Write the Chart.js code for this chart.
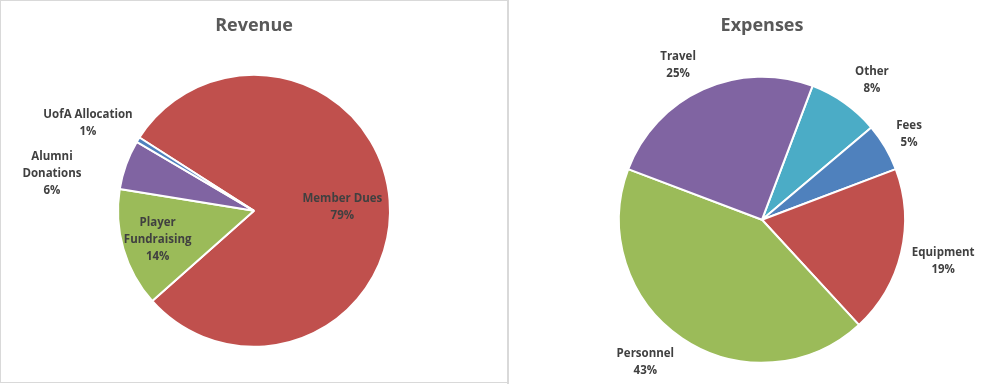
<!DOCTYPE html>
<html>
<head>
<meta charset="utf-8">
<script src="https://cdn.jsdelivr.net/npm/chart.js@4"></script>
<style>
  html, body { margin: 0; padding: 0; background: #ffffff; }
  body { width: 1000px; height: 384px; position: relative; overflow: hidden; }
  .panel { position: absolute; top: 0; height: 383px; }
  #leftPanel { left: 0; width: 508px; }
  #rightPanel { left: 510px; width: 490px; }
  .line { position: absolute; background: #d9d9d9; }
</style>
</head>
<body>
<div class="line" style="left:0;top:0;width:509px;height:1px;"></div>
<div class="line" style="left:0;top:0;width:1px;height:383px;"></div>
<div class="line" style="left:0;top:382px;width:509px;height:1px;"></div>
<div class="line" style="left:507px;top:0;width:2px;height:384px;"></div>
<div class="panel" id="leftPanel"><canvas id="rev"></canvas></div>
<div class="panel" id="rightPanel"><canvas id="exp"></canvas></div>
<script>
// ---- Data ----
const revenueCategories = [['Member Dues'], ['Player', 'Fundraising'], ['Alumni', 'Donations'], ['UofA Allocation']];
const revenueValues = [79.4, 14.1, 5.9, 0.6];
const revenueColors = ['#C0504D', '#9BBB59', '#8064A2', '#4F81BD'];

const expenseCategories = [['Other'], ['Fees'], ['Equipment'], ['Personnel'], ['Travel']];
const expenseValues = [8.1, 5.4, 18.9, 42.6, 25.0];
const expenseColors = ['#4BACC6', '#4F81BD', '#C0504D', '#9BBB59', '#8064A2'];

// label placement style: radius factor and angular nudge (degrees) per slice
const revenueLabelPlace = [{f: 0.65, da: 2.4}, {f: 0.74, da: -0.7}, {f: 1.51, da: -9.5}, {f: 1.38, da: -3.7}];
const expenseLabelPlace = [{f: 1.24, da: 3}, {f: 1.19, da: 0.2}, {f: 1.30, da: -0.4}, {f: 1.29, da: 5.2}, {f: 1.23, da: -4.2}];

const FONT = "'Comic Sans MS', 'Open Sans', sans-serif";

const sliceLabels = {
  id: 'sliceLabels',
  afterDraw(chart, args, opts) {
    const ctx = chart.ctx;
    const meta = chart.getDatasetMeta(0);
    const data = chart.data.datasets[0].data;
    const total = data.reduce((a, b) => a + b, 0);
    ctx.save();
    ctx.font = 'bold 11.5px ' + FONT;
    ctx.fillStyle = '#404040';
    ctx.textAlign = 'center';
    ctx.textBaseline = 'middle';
    meta.data.forEach((arc, i) => {
      const p = arc.getProps(['x', 'y', 'startAngle', 'endAngle', 'outerRadius'], true);
      const place = opts.place[i];
      const mid = (p.startAngle + p.endAngle) / 2 + place.da * Math.PI / 180;
      const r = p.outerRadius * place.f;
      const x = p.x + Math.cos(mid) * r;
      const y = p.y + Math.sin(mid) * r;
      const lbl = chart.data.labels[i];
      const lines = (Array.isArray(lbl) ? lbl.slice() : [lbl]);
      lines.push(Math.round(data[i] / total * 100) + '%');
      const lh = 17;
      const y0 = y - (lines.length - 1) * lh / 2;
      lines.forEach((t, k) => ctx.fillText(t, x, y0 + k * lh));
    });
    ctx.restore();
  }
};

function makePie(id, title, labels, values, colors, rotation, padding, place, titleBottom) {
  return new Chart(document.getElementById(id), {
    type: 'pie',
    data: {
      labels: labels,
      datasets: [{ data: values, backgroundColor: colors, borderColor: '#ffffff', borderWidth: 2 }]
    },
    options: {
      responsive: true,
      maintainAspectRatio: false,
      animation: false,
      rotation: rotation,
      layout: { padding: padding },
      plugins: {
        legend: { display: false },
        tooltip: { enabled: false },
        title: {
          display: true,
          text: title,
          color: '#595959',
          font: { family: FONT, size: 18, weight: 'bold', lineHeight: 1.2 },
          padding: { top: 15, bottom: titleBottom }
        },
        sliceLabels: { place: place }
      }
    },
    plugins: [sliceLabels]
  });
}

makePie('rev', 'Revenue', revenueCategories, revenueValues, revenueColors, -57.4,
        { left: 117, right: 117, top: 0, bottom: 35 }, revenueLabelPlace, 37);
makePie('exp', 'Expenses', expenseCategories, expenseValues, expenseColors, 20.7,
        { left: 108, right: 94, top: 0, bottom: 19 }, expenseLabelPlace, 38.8);
</script>
</body>
</html>
